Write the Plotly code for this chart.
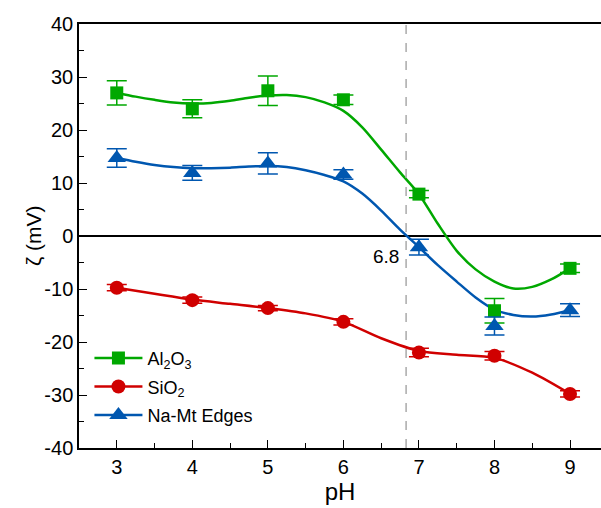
import plotly.graph_objects as go

# ---- data ----
ph = [3, 4, 5, 6, 7, 8, 9]

al2o3 = [27.0, 24.0, 27.4, 25.7, 7.9, -14.1, -6.1]
al2o3_err = [2.3, 1.7, 2.8, 0.9, 0.7, 2.3, 0.8]

sio2 = [-9.75, -12.1, -13.6, -16.2, -22.0, -22.6, -29.8]
sio2_err = [0.6, 0.6, 0.5, 0.6, 0.8, 0.8, 0.6]

namt = [14.7, 11.9, 13.7, 11.6, -2.1, -17.0, -14.0]
namt_err = [1.75, 1.4, 2.0, 0.9, 1.5, 1.7, 1.2]

# smoothed fit curves
fit_ph = [3, 3.25, 3.5, 3.75, 4, 4.25, 4.5, 4.75, 5, 5.25, 5.5, 5.75, 6,
          6.25, 6.5, 6.75, 7, 7.25, 7.5, 7.75, 8, 8.25, 8.5, 8.75, 9]
fit_al = [27.0, 26.3, 25.7, 25.2, 25.0, 25.1, 25.5, 26.1, 26.5, 26.6, 26.2, 25.2, 23.6,
          20.5, 16.3, 12.0, 7.9, 2.3, -2.8, -6.3, -8.6, -9.9, -9.6, -8.2, -6.1]
fit_na = [14.7, 14.0, 13.4, 13.0, 12.8, 12.8, 12.9, 13.1, 13.2, 13.0, 12.4, 11.5, 10.3,
          8.0, 4.8, 1.2, -2.1, -5.5, -8.6, -11.6, -13.9, -14.9, -15.2, -14.8, -14.0]
fit_ph_si = [3, 3.5, 4, 4.5, 5, 5.5, 6, 6.5, 7, 7.5, 8, 8.5, 9]
fit_si = [-9.75, -10.9, -12.0, -12.8, -13.6, -14.6, -16.2, -19.3, -21.7, -22.4, -23.0, -25.8, -29.8]

y_ticks = [-40, -30, -20, -10, 0, 10, 20, 30, 40]
y_ticklabels = ["-40", "-30", "-20", "-10", "0", "10", "20", "30", "40"]

ref_ph = 6.83
ref_label = "6.8"

GREEN = "#00A800"
RED = "#D00000"
BLUE = "#0057B0"
FONT = "Arial, Liberation Sans, sans-serif"

fig = go.Figure()

# fit lines
for fx, fy, col in [(fit_ph, fit_al, GREEN), (fit_ph_si, fit_si, RED), (fit_ph, fit_na, BLUE)]:
    fig.add_trace(go.Scatter(x=fx, y=fy, mode="lines",
                             line=dict(color=col, width=2.5, shape="spline", smoothing=0.8),
                             showlegend=False, hoverinfo="skip"))

# markers with error bars
def pts(y, err, color, symbol, size):
    return go.Scatter(x=ph, y=y, mode="markers",
                      marker=dict(color=color, symbol=symbol, size=size),
                      error_y=dict(type="data", array=err, color=color, thickness=1.5, width=10),
                      showlegend=False)

fig.add_trace(pts(al2o3, al2o3_err, GREEN, "square", 13))
fig.add_trace(pts(sio2, sio2_err, RED, "circle", 14))
fig.add_trace(pts(namt, namt_err, BLUE, "triangle-up", 16))

# legend entries
for name, color, symbol, size, grp in [
    ("Al<sub>2</sub>O<sub>3</sub>", GREEN, "square", 13, "a"),
    ("SiO<sub>2</sub>", RED, "circle", 14, "b"),
    ("Na-Mt Edges", BLUE, "triangle-up", 16, "c"),
]:
    fig.add_trace(go.Scatter(x=[None], y=[None], mode="lines+markers", name=name, legendgroup=grp,
                             line=dict(color=color, width=2.5),
                             marker=dict(color=color, symbol=symbol, size=size)))

fig.add_shape(type="line", x0=ref_ph, x1=ref_ph, y0=0, y1=1, xref="x", yref="paper",
              line=dict(color="#AAAAAA", width=1.5, dash="dash"))
fig.add_annotation(x=ref_ph, y=0, xref="x", yref="y", text=ref_label, showarrow=False,
                   xanchor="right", yanchor="top", xshift=-5, yshift=-8,
                   font=dict(size=19, color="black", family=FONT))
# y-axis title placed close to the tick labels, as in the reference
fig.add_annotation(x=-0.088, y=0.5, xref="paper", yref="paper", text="ζ (mV)", showarrow=False,
                   textangle=-90, xanchor="center", yanchor="middle",
                   font=dict(size=21, color="black", family=FONT))

fig.update_layout(
    width=601, height=508,
    margin=dict(l=79, r=0, t=24, b=60),
    plot_bgcolor="white", paper_bgcolor="white",
    font=dict(family=FONT, size=20, color="black"),
    legend=dict(x=0.02, y=0.255, xanchor="left", yanchor="top", bgcolor="rgba(0,0,0,0)",
                font=dict(size=18), tracegroupgap=2, itemwidth=48),
    xaxis=dict(range=[2.5, 9.41], dtick=1, tick0=3, showgrid=False, zeroline=False,
               showline=True, linecolor="black", linewidth=1.5, mirror=True,
               ticks="inside", ticklen=8, tickwidth=1.2, tickcolor="black",
               minor=dict(dtick=0.5, ticks="inside", ticklen=5, tickwidth=1.2, tickcolor="black"),
               title=dict(text="pH", standoff=2), tickfont=dict(size=20)),
    yaxis=dict(range=[-40, 40], tickvals=y_ticks, ticktext=y_ticklabels, showgrid=False,
               zeroline=True, zerolinecolor="black", zerolinewidth=1.5,
               showline=True, linecolor="black", linewidth=1.5,
               ticks="inside", ticklen=8, tickwidth=1.2, tickcolor="black",
               minor=dict(dtick=5, ticks="inside", ticklen=5, tickwidth=1.2, tickcolor="black"),
               tickfont=dict(size=20)),
)

fig.write_html("out.html")
